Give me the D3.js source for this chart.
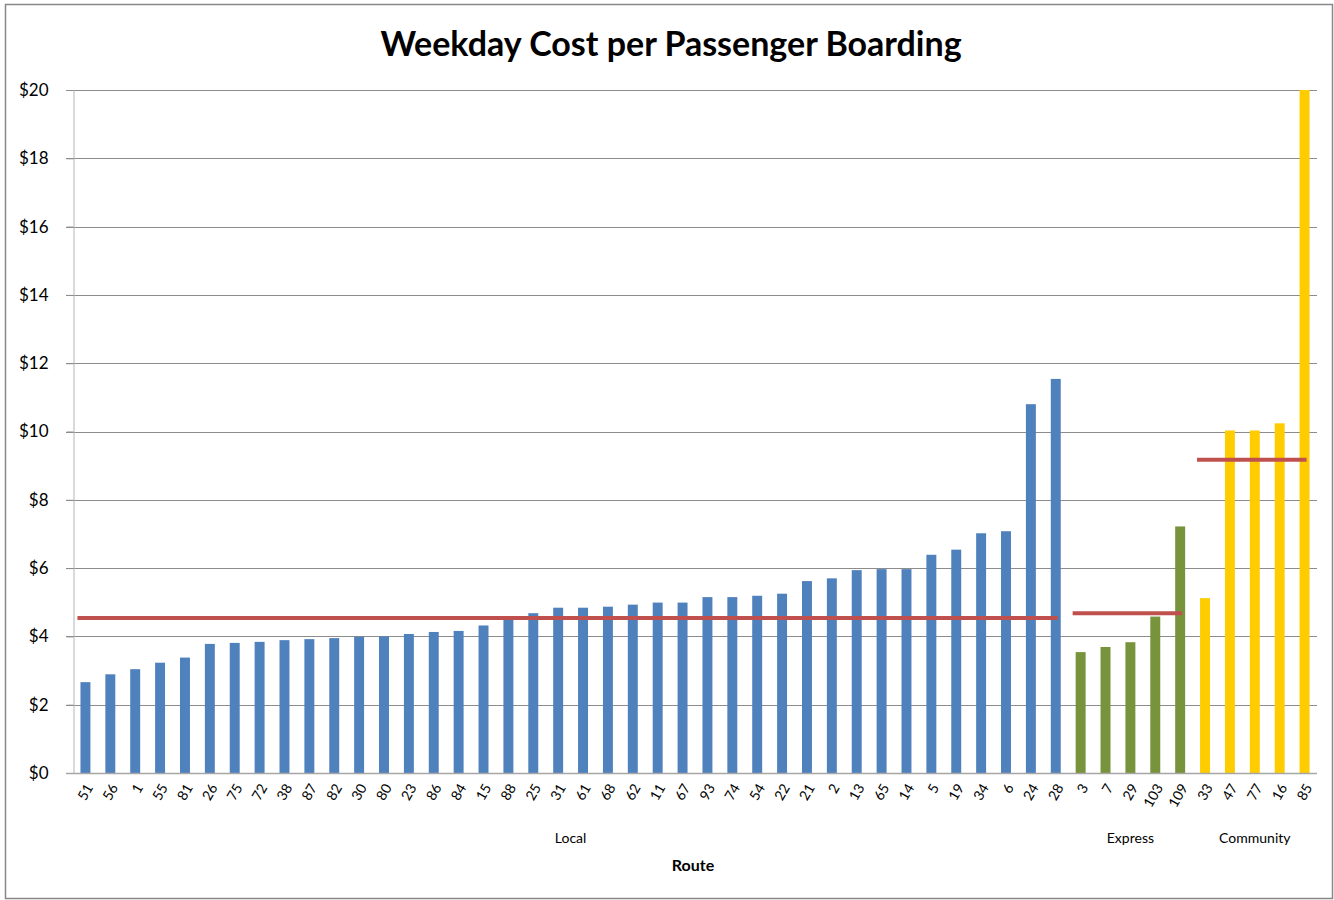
<!DOCTYPE html>
<html>
<head>
<meta charset="utf-8">
<script src="https://cdn.jsdelivr.net/npm/d3@7"></script>
<style>
  html, body { margin: 0; padding: 0; background: #fff; }
  svg { display: block; font-family: Lato, "Open Sans", sans-serif; }
</style>
</head>
<body>
<svg id="chart" width="1334" height="900"></svg>
<script>
// Route groups, in display order
const groups = ["Local", "Express", "Community"];

const localRoutes = ["51","56","1","55","81","26","75","72","38","87","82","30","80","23","86","84","15","88",
  "25","31","61","68","62","11","67","93","74","54","22","21","2","13","65","14","5","19","34","6","24","28"];
const localCost = [2.66,2.89,3.04,3.23,3.38,3.78,3.81,3.84,3.89,3.92,3.95,3.99,4.00,4.07,4.13,4.16,4.32,4.48,
  4.68,4.84,4.84,4.87,4.93,4.99,4.99,5.15,5.15,5.19,5.25,5.62,5.70,5.94,5.97,5.97,6.39,6.54,7.02,7.08,10.80,11.54];

const expressRoutes = ["3","7","29","103","109"];
const expressCost = [3.54,3.69,3.83,4.58,7.22];

const communityRoutes = ["33","47","77","16","85"];
const communityCost = [5.12,10.03,10.03,10.24,20.00];

// Group averages (red reference lines)
const groupAverage = [4.54, 4.68, 9.17];

const groupColors = ["#4f81bd", "#77933c", "#ffcc00"];

const yTicks = [0, 2, 4, 6, 8, 10, 12, 14, 16, 18, 20];

// Build flat rows
const routeLists = [localRoutes, expressRoutes, communityRoutes];
const costLists = [localCost, expressCost, communityCost];
const rows = [];
routeLists.forEach((list, g) => list.forEach((r, i) => rows.push({ key: g + "-" + r, route: r, cost: costLists[g][i], group: g })));

const svg = d3.select("#chart");

// Outer chart frame
svg.append("rect").attr("x", 5.5).attr("y", 4.5).attr("width", 1327).attr("height", 894)
  .attr("fill", "none").attr("stroke", "#878787").attr("stroke-width", 1.5);

const plotLeft = 73, plotRight = 1317, plotTop = 90, plotBottom = 773;

const x = d3.scaleBand().domain(rows.map(d => d.key)).range([plotLeft, plotRight]).paddingInner(0.6).paddingOuter(0.3);
const y = d3.scaleLinear().domain([0, 20]).range([plotBottom, plotTop]);

// Horizontal gridlines
svg.append("g").selectAll("line").data(yTicks.filter(t => t > 0)).join("line")
  .attr("x1", plotLeft - 7).attr("x2", plotRight)
  .attr("y1", d => Math.round(y(d)) + 0.5).attr("y2", d => Math.round(y(d)) + 0.5)
  .attr("stroke", "#8c8c8c").attr("stroke-width", 1);

// Y axis
const yAxis = svg.append("g").attr("transform", `translate(${plotLeft + 0.5},0)`)
  .call(d3.axisLeft(y).tickValues(yTicks).tickSize(7).tickPadding(18).tickFormat(d => "$" + d));
yAxis.select(".domain").attr("stroke", "#b5b5b5");
yAxis.selectAll(".tick line").attr("stroke", "#8c8c8c");
yAxis.selectAll(".tick text").attr("font-size", 17).attr("fill", "#000").attr("font-family", "Lato, 'Open Sans', sans-serif");

// Bars
svg.append("g").selectAll("rect").data(rows).join("rect")
  .attr("x", d => x(d.key)).attr("width", x.bandwidth())
  .attr("y", d => y(d.cost)).attr("height", d => y(0) - y(d.cost))
  .attr("fill", d => groupColors[d.group]);

// Category baseline
svg.append("line").attr("x1", plotLeft - 7).attr("x2", plotRight)
  .attr("y1", plotBottom + 0.5).attr("y2", plotBottom + 0.5).attr("stroke", "#a6a6a6").attr("stroke-width", 1.5);

// Group average lines
groups.forEach((g, gi) => {
  const list = rows.filter(d => d.group === gi);
  const x1 = x(list[0].key) + x.bandwidth() / 2 - 8;
  const x2 = x(list[list.length - 1].key) + x.bandwidth() / 2 + 2;
  svg.append("line").attr("x1", x1).attr("x2", x2)
    .attr("y1", y(groupAverage[gi])).attr("y2", y(groupAverage[gi]))
    .attr("stroke", "#c0504d").attr("stroke-width", 4);
});

// Route labels, rotated
svg.append("g").selectAll("text").data(rows).join("text")
  .attr("transform", d => `translate(${x(d.key) + x.bandwidth() / 2 + 4},${plotBottom + 12}) rotate(-60)`)
  .attr("text-anchor", "end").attr("dy", "0.35em")
  .attr("font-size", 14).attr("fill", "#000")
  .text(d => d.route);

// Group labels
groups.forEach((g, gi) => {
  const list = rows.filter(d => d.group === gi);
  const cx = (x(list[0].key) - x.step() * x.paddingInner() / 2 + x(list[list.length - 1].key) + x.bandwidth() + x.step() * x.paddingInner() / 2) / 2;
  svg.append("text").attr("x", cx).attr("y", 843).attr("text-anchor", "middle")
    .attr("font-size", 14).attr("fill", "#000").text(g);
});

// Axis title
svg.append("text").attr("x", 693).attr("y", 871).attr("text-anchor", "middle")
  .attr("font-size", 16).attr("font-weight", "bold").attr("fill", "#000").text("Route");

// Chart title
svg.append("text").attr("x", 671).attr("y", 56).attr("text-anchor", "middle")
  .attr("font-size", 34).attr("font-weight", "bold").attr("fill", "#000").text("Weekday Cost per Passenger Boarding");
</script>
</body>
</html>
